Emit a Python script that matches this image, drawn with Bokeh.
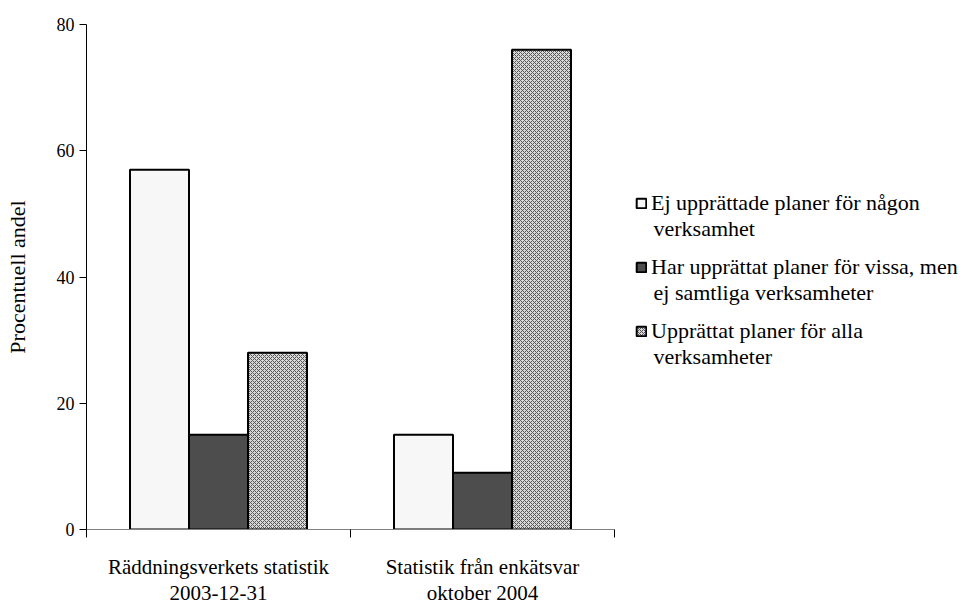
from bokeh.plotting import figure
from bokeh.models import Range1d, FixedTicker, Legend, LegendItem, ColumnDataSource, Label
from bokeh.transform import dodge
from bokeh.embed import file_html
from bokeh.resources import INLINE

categories = ["Räddningsverkets statistik\n2003-12-31", "Statistik från enkätsvar\noktober 2004"]
series_first_line = [
    "Ej upprättade planer för någon",
    "Har upprättat planer för vissa, men",
    "Upprättat planer för alla",
]
series_second_line = ["verksamhet", "ej samtliga verksamheter", "verksamheter"]
ej_planer = [57, 15]
vissa_planer = [15, 9]
alla_planer = [28, 76]
y_ticks = [0, 20, 40, 60, 80]

FONT = "Liberation Serif"
n = len(categories)
centers = [i + 0.5 for i in range(n)]
src = ColumnDataSource(dict(x=centers, a=ej_planer, b=vissa_planer, c=alla_planer))

AXIS_W = 528          # pixel length of the category axis
FRAME_W, FRAME_H = 876, 505
BORDER_L, BORDER_T = 86, 24
p = figure(frame_width=FRAME_W, frame_height=FRAME_H, output_backend="svg", toolbar_location=None,
           x_range=Range1d(0, n * FRAME_W / AXIS_W), y_range=Range1d(0, 80),
           min_border_left=BORDER_L, min_border_top=BORDER_T, min_border_bottom=72,
           min_border_right=0)
p.outline_line_color = None
p.grid.grid_line_color = None
p.background_fill_color = "white"

bw = 0.2235
r1 = p.vbar(x=dodge("x", -bw, range=p.x_range), top="a", width=bw, source=src,
            fill_color="#f7f7f7", line_color="black", line_width=2)
r2 = p.vbar(x=dodge("x", 0, range=p.x_range), top="b", width=bw, source=src,
            fill_color="#4d4d4d", line_color="black", line_width=2)
r3 = p.vbar(x=dodge("x", bw, range=p.x_range), top="c", width=bw, source=src,
            fill_color="#d8d8d8", hatch_pattern="diagonal_cross", hatch_scale=4,
            hatch_color="#555555", hatch_weight=1, line_color="black", line_width=2)

# x axis: category labels at centers, ticks at boundaries
xa = p.xaxis[0]
xa.bounds = (0, n)
xa.ticker = FixedTicker(ticks=centers, minor_ticks=list(range(n + 1)))
xa.major_label_overrides = {c: lab for c, lab in zip(centers, categories)}
xa.major_tick_out = 0
xa.major_tick_in = 0
xa.minor_tick_in = 0
xa.minor_tick_out = 8
xa.minor_tick_line_color = "black"
xa.axis_line_color = "#808080"
xa.major_label_standoff = 17
xa.major_label_text_font = FONT
xa.major_label_text_font_size = "21px"
xa.major_label_text_line_height = 1.1
xa.major_label_text_color = "black"

ya = p.yaxis[0]
ya.ticker = FixedTicker(ticks=y_ticks)
ya.minor_tick_line_color = None
ya.major_tick_out = 7
ya.major_tick_in = 0
ya.major_tick_line_color = "black"
ya.axis_line_color = "black"
ya.major_label_text_font = FONT
ya.major_label_text_font_size = "18px"
ya.major_label_text_color = "black"
ya.major_label_standoff = 5
ya.axis_label = "Procentuell andel"
ya.axis_label_text_font = FONT
ya.axis_label_text_font_size = "22px"
ya.axis_label_text_font_style = "normal"
ya.axis_label_text_color = "black"
ya.axis_label_standoff = 24

# legend (first lines) placed to the right of the bars
ITEM_H, SPACING, PAD, STANDOFF = 30, 34, 2, 4
LEG_H = 3 * ITEM_H + 2 * SPACING + 2 * PAD
LEG_X = 549
first_line_y = 201           # canvas px of first entry's first line
leg_top = first_line_y - ITEM_H / 2 - PAD
legend = Legend(items=[LegendItem(label=series_first_line[0], renderers=[r1]),
                       LegendItem(label=series_first_line[1], renderers=[r2]),
                       LegendItem(label=series_first_line[2], renderers=[r3])],
                location=(LEG_X, (BORDER_T + FRAME_H) - leg_top - LEG_H),
                border_line_color=None, background_fill_alpha=0,
                label_text_font=FONT, label_text_font_size="22px", label_text_color="black",
                glyph_width=12, glyph_height=12, label_standoff=STANDOFF, spacing=SPACING,
                padding=PAD, margin=0, label_height=ITEM_H)
p.add_layout(legend, "center")

# second lines of the legend texts
px_to_x = n / AXIS_W
px_to_y = 80 / FRAME_H
text_x_px = BORDER_L + LEG_X + PAD + 12 + STANDOFF
for i, t in enumerate(series_second_line):
    ypix = first_line_y + i * (ITEM_H + SPACING) + 27
    p.add_layout(Label(x=(text_x_px - BORDER_L) * px_to_x,
                       y=(BORDER_T + FRAME_H - ypix) * px_to_y,
                       text=t, text_font=FONT, text_font_size="22px", text_color="black",
                       text_baseline="middle", text_align="left"))

open("out.html", "w").write(file_html(p, INLINE))
